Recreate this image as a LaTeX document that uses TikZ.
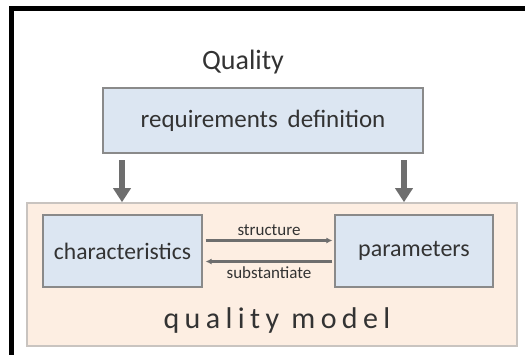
\documentclass[tikz,border=0pt]{standalone}
\usepackage{fontspec}
\setmainfont{Carlito}
\usepackage{xcolor}
\usetikzlibrary{arrows.meta,calc,positioning}

\definecolor{boxblue}{HTML}{DCE6F2}
\definecolor{boxedge}{HTML}{8A8A8A}
\definecolor{modelfill}{HTML}{FDEEE2}
\definecolor{modeledge}{HTML}{C9C4C0}
\definecolor{arrowgray}{HTML}{6E6E6E}
\definecolor{textgray}{HTML}{333333}

\begin{document}
\begin{tikzpicture}[x=0.5pt,y=-0.5pt,
 block/.style={draw=boxedge,fill=boxblue,line width=.6pt,inner sep=0pt,
   text=textgray,align=center},
 modelbox/.style={draw=modeledge,fill=modelfill,line width=.8pt,inner sep=0pt,
   minimum width=245pt,minimum height=71.5pt},
 feed/.style={-{Triangle[length=7pt,width=8.5pt]},draw=arrowgray,line width=3pt},
 link/.style={-{Latex[length=3pt,width=3pt]},draw=arrowgray,line width=1.1pt},
 linklabel/.style={font=\fontsize{8.5}{10}\selectfont,text=textgray,inner sep=1pt}
]
\useasboundingbox (0,0) rectangle (525,354);
\fill[white] (0,0) rectangle (525,354);
\begin{scope}
\clip (0,0) rectangle (525,354);
\draw[black,line width=2.6pt] (11.5,8.5) rectangle (540,370);
\end{scope}

\node[text=textgray,font=\fontsize{14}{16}\selectfont] (title) at (243,62) {Quality};
\node[block,minimum width=160pt,minimum height=32.5pt,
      font=\fontsize{12.5}{14}\selectfont] (reqdef) at (263,120.5)
 {requirements\, definition};

\node[modelbox] (model) at (272,274.5) {};
\node[block,minimum width=79.5pt,minimum height=36pt,
      font=\fontsize{11.8}{14}\selectfont] (chars) at (122.5,251) {characteristics};
\node[block,minimum width=79pt,minimum height=36pt,
      font=\fontsize{12}{14}\selectfont] (params) at (414,251) {parameters};
\node[text=textgray,font=\fontsize{15}{17}\selectfont\addfontfeatures{LetterSpace=18}]
 (modelname) at (277,320) {quality model};

% feeds from the definition into the model
\coordinate (feedleft) at (122,160);
\coordinate (feedright) at (404,160);
\draw[feed] (feedleft) -- (feedleft |- model.north);
\draw[feed] (feedright) -- (feedright |- model.north);

% links between the two blocks
\draw[link] ($(chars.east)+(3,-10.5)$) --
 node[linklabel,above=1pt] (structlabel) {structure}
 ($(params.west)+(-2,-10.5)$);
\draw[link] ($(params.west)+(-2,10.5)$) --
 node[linklabel,below=1pt] (substlabel) {substantiate}
 ($(chars.east)+(3,10.5)$);
\end{tikzpicture}
\end{document}
